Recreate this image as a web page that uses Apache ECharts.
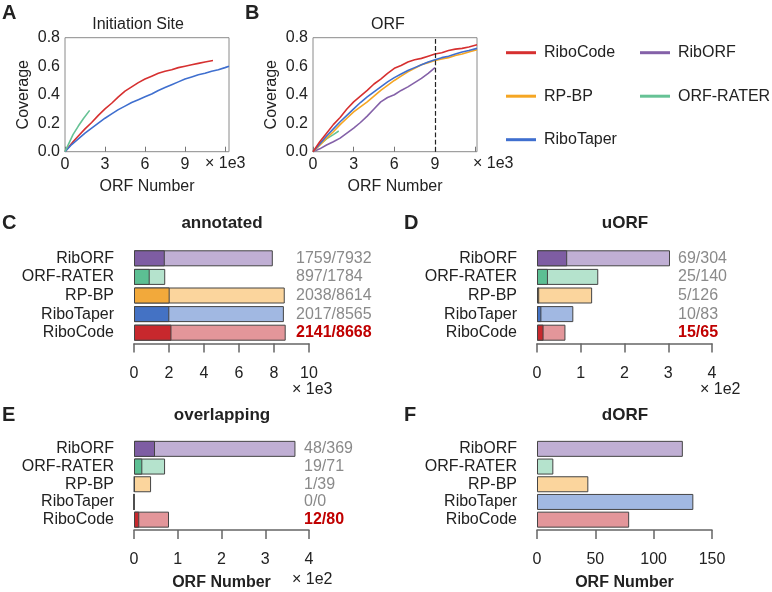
<!DOCTYPE html>
<html><head><meta charset="utf-8">
<script src="https://cdn.jsdelivr.net/npm/echarts@6/dist/echarts.min.js"></script>
<style>html,body{margin:0;padding:0;background:#fff}#c{width:772px;height:592px}</style>
</head><body><div id="c"></div>
<script>
// ---------- data ----------
const tools = ['RibORF', 'ORF-RATER', 'RP-BP', 'RiboTaper', 'RiboCode'];
const legendCol1 = ['RiboCode', 'RP-BP', 'RiboTaper'];
const legendCol2 = ['RibORF', 'ORF-RATER'];

// Panel A: Initiation Site coverage, x in thousands of ORFs
const initRiboCode = [[0,0],[0.3,0.035],[0.6,0.07],[1,0.11],[1.5,0.16],[2,0.205],[2.5,0.255],[3,0.30],[3.5,0.34],[4,0.385],[4.5,0.425],[5,0.455],[5.5,0.485],[6,0.51],[6.5,0.53],[7,0.55],[7.5,0.565],[8,0.575],[8.5,0.59],[9,0.60],[9.5,0.61],[10,0.62],[10.5,0.63],[11.1,0.64]];
const initRiboTaper = [[0,0],[0.5,0.05],[1,0.09],[1.5,0.13],[2,0.165],[2.5,0.2],[3,0.235],[3.5,0.265],[4,0.295],[4.5,0.32],[5,0.345],[5.5,0.365],[6,0.385],[6.5,0.405],[7,0.43],[7.5,0.45],[8,0.47],[8.5,0.49],[9,0.51],[9.5,0.525],[10,0.54],[10.5,0.55],[11,0.565],[11.5,0.575],[12,0.59],[12.3,0.60]];
const initORFRATER = [[0,0],[0.3,0.06],[0.6,0.12],[1,0.18],[1.4,0.235],[1.85,0.29]];

// Panel B: ORF coverage
const orfRiboCode = [[0,0],[0.5,0.07],[1,0.13],[1.5,0.19],[2,0.24],[2.5,0.30],[3,0.35],[3.5,0.39],[4,0.43],[4.5,0.475],[5,0.51],[5.5,0.55],[6,0.585],[6.5,0.605],[7,0.63],[7.5,0.645],[8,0.655],[8.5,0.67],[9,0.685],[9.5,0.695],[10,0.71],[10.5,0.72],[11,0.725],[11.5,0.735],[12.1,0.75]];
const orfRiboTaper = [[0,0],[0.5,0.055],[1,0.11],[1.5,0.16],[2,0.21],[2.5,0.255],[3,0.30],[3.5,0.345],[4,0.385],[4.5,0.42],[5,0.455],[5.5,0.49],[6,0.52],[6.5,0.545],[7,0.57],[7.5,0.59],[8,0.61],[8.5,0.63],[9,0.645],[9.5,0.66],[10,0.67],[10.5,0.685],[11,0.70],[11.5,0.71],[12.1,0.725]];
const orfRPBP = [[0,0],[0.5,0.045],[1,0.095],[1.5,0.14],[2,0.19],[2.5,0.235],[3,0.28],[3.5,0.315],[4,0.35],[4.5,0.39],[5,0.43],[5.5,0.465],[6,0.50],[6.5,0.53],[7,0.56],[7.5,0.585],[8,0.61],[8.5,0.625],[9,0.64],[9.5,0.65],[10,0.66],[10.5,0.675],[11,0.685],[11.5,0.70],[12.1,0.715]];
const orfRibORF = [[0,0],[0.5,0.02],[1,0.047],[1.5,0.07],[2,0.095],[2.5,0.13],[3,0.165],[3.5,0.205],[4,0.25],[4.5,0.30],[5,0.35],[5.5,0.38],[6,0.40],[6.5,0.43],[7,0.455],[7.5,0.485],[8,0.515],[8.5,0.55],[9,0.59]];
const orfORFRATER = [[0,0],[0.5,0.05],[1,0.09],[1.5,0.12],[1.9,0.145]];

// Panels C-F: [found, total] per tool (order of `tools`)
const annotatedFound = [1.759, 0.897, 2.038, 2.017, 2.141];   // x 1e3
const annotatedTotal = [7.932, 1.784, 8.614, 8.565, 8.668];
const annotatedText = ['1759/7932', '897/1784', '2038/8614', '2017/8565', '2141/8668'];
const uorfFound = [0.69, 0.25, 0.05, 0.10, 0.15];                // x 1e2
const uorfTotal = [3.04, 1.40, 1.26, 0.83, 0.65];
const uorfText = ['69/304', '25/140', '5/126', '10/83', '15/65'];
const overlapFound = [0.48, 0.19, 0.01, 0, 0.12];                // x 1e2
const overlapTotal = [3.69, 0.71, 0.39, 0, 0.80];
const overlapText = ['48/369', '19/71', '1/39', '0/0', '12/80'];
const dorfTotal = [125, 14, 44, 134, 79];

const xTicksA = [0, 3, 6, 9];
const xMinorTicksA = [0, 3, 6, 9, 12];

// ---------- styles ----------
const FONT = 'Liberation Sans, Arial, Helvetica, sans-serif';
const lineColor = {'RiboCode':'#d63030','RP-BP':'#f5a623','RiboTaper':'#3f6fcf','RibORF':'#8461a8','ORF-RATER':'#66c295'};
const darkColor = {'RibORF':'#7e5da3','ORF-RATER':'#5cbf93','RP-BP':'#f2a93b','RiboTaper':'#4472c4','RiboCode':'#c8282d'};
const lightColor = {'RibORF':'#c0afd4','ORF-RATER':'#b5e3cd','RP-BP':'#fbd59d','RiboTaper':'#a1b8e2','RiboCode':'#e3969a'};
const txt = '#222';

const grids = [
  {left:65, top:37.7, width:164, height:114},
  {left:313, top:37.7, width:164, height:114},
  {left:134, top:249, width:175, height:93},
  {left:537, top:249, width:175, height:93},
  {left:134, top:440, width:175, height:94},
  {left:537, top:440, width:175, height:94}
].map(g => Object.assign({containLabel:false}, g));
grids[0].show = true; grids[0].borderColor = '#8a8a8a'; grids[0].borderWidth = 1;
grids[1].show = true; grids[1].borderColor = '#8a8a8a'; grids[1].borderWidth = 1;

function lineX(gi, max, name) {
  return {type:'value', gridIndex:gi, min:0, max:max, interval:3,
    axisLine:{show:false}, splitLine:{show:false},
    axisTick:{show:true, inside:true, length:5, lineStyle:{color:'#777'}, customValues:xMinorTicksA},
    axisLabel:{fontFamily:FONT, fontSize:16, color:txt, margin:5, customValues:xTicksA},
    name:name, nameLocation:'middle', nameGap:27,
    nameTextStyle:{fontFamily:FONT, fontSize:16, color:txt}};
}
function lineY(gi) {
  return {type:'value', gridIndex:gi, min:0, max:0.8, interval:0.2,
    axisLine:{show:false}, splitLine:{show:false}, axisTick:{show:false},
    axisLabel:{fontFamily:FONT, fontSize:16, color:txt, margin:5, formatter:v => v.toFixed(1)},
    name:'Coverage', nameLocation:'middle', nameGap:33, nameRotate:90,
    nameTextStyle:{fontFamily:FONT, fontSize:16, color:txt}};
}
function barX(gi, max, interval, name) {
  const o = {type:'value', gridIndex:gi, min:0, max:max, interval:interval, offset:1.5,
    axisLine:{show:true, lineStyle:{color:'#666', width:1.5}}, splitLine:{show:false},
    axisTick:{show:true, length:9, lineStyle:{color:'#666', width:1.5}},
    axisLabel:{fontFamily:FONT, fontSize:16, color:txt, margin:22}};
  if (name) { o.name = name; o.nameLocation = 'middle'; o.nameGap = 45;
    o.nameTextStyle = {fontFamily:FONT, fontSize:16, fontWeight:'bold', color:txt}; }
  return o;
}
function catY(gi) {
  return {type:'category', gridIndex:gi, data:tools, inverse:true,
    axisLine:{show:false}, axisTick:{show:false},
    axisLabel:{fontFamily:FONT, fontSize:16, color:txt, margin:20, interval:0}};
}
function ratioY(gi, texts, off) {
  return {type:'category', gridIndex:gi, position:'right', offset:off, inverse:true,
    data:texts.map((t, i) => tools[i] === 'RiboCode'
      ? {value:t, textStyle:{color:'#c00000', fontWeight:'bold'}} : t),
    axisLine:{show:false}, axisTick:{show:false},
    axisLabel:{fontFamily:FONT, fontSize:16, color:'#8a8a8a', margin:0, interval:0}};
}

const xAxis = [
  lineX(0, 12.3, 'ORF Number'),
  lineX(1, 12.1, 'ORF Number'),
  barX(2, 10, 2),
  barX(3, 4, 1),
  barX(4, 4, 1, 'ORF Number'),
  barX(5, 150, 50, 'ORF Number')
];
const yAxis = [
  lineY(0), lineY(1),
  catY(2), ratioY(2, annotatedText, -13),
  catY(3), ratioY(3, uorfText, -34),
  catY(4), ratioY(4, overlapText, -5),
  catY(5)
];

function lineSeries(name, xi, data, extra) {
  return Object.assign({type:'line', name:name, xAxisIndex:xi, yAxisIndex:xi, data:data,
    symbol:'none', smooth:false, lineStyle:{width:1.6, color:lineColor[name]},
    itemStyle:{color:lineColor[name]}, z:3}, extra || {});
}
function barSeries(xi, yi, vals, palette, name) {
  return {type:'bar', name:name, xAxisIndex:xi, yAxisIndex:yi, barWidth:16, barGap:'-100%',
    data:vals.map((v, i) => ({value:v, itemStyle:{color:palette[tools[i]]}})),
    itemStyle:{borderColor:'#444', borderWidth:1}, silent:true};
}

const series = [
  lineSeries('RiboCode', 0, initRiboCode),
  lineSeries('RiboTaper', 0, initRiboTaper),
  lineSeries('ORF-RATER', 0, initORFRATER),
  lineSeries('RibORF', 1, orfRibORF),
  lineSeries('ORF-RATER', 1, orfORFRATER),
  lineSeries('RP-BP', 1, orfRPBP),
  lineSeries('RiboTaper', 1, orfRiboTaper),
  lineSeries('RiboCode', 1, orfRiboCode, {markLine:{silent:true, symbol:'none', label:{show:false},
    lineStyle:{type:'dashed', color:'#222', width:1.2}, data:[{xAxis:9}]}}),
  barSeries(2, 2, annotatedTotal, lightColor, 'annTotal'),
  barSeries(2, 2, annotatedFound, darkColor, 'annFound'),
  barSeries(3, 4, uorfTotal, lightColor, 'uTotal'),
  barSeries(3, 4, uorfFound, darkColor, 'uFound'),
  barSeries(4, 6, overlapTotal, lightColor, 'oTotal'),
  barSeries(4, 6, overlapFound, darkColor, 'oFound'),
  barSeries(5, 8, dorfTotal, lightColor, 'dTotal')
];

function legend(left, data) {
  return {orient:'vertical', left:left, top:44.7, padding:0, itemGap:27.5, itemWidth:30, itemHeight:14,
    icon:'path://M0,0L30,0L30,3L0,3Z', data:data,
    textStyle:{fontFamily:FONT, fontSize:16, color:txt, padding:[0,0,0,3]}};
}

function label(text, x, y, size, bold, align) {
  return {type:'text', x:x, y:y, silent:true,
    style:{text:text, fill:txt, align:align || 'center', verticalAlign:'middle',
      font:(bold ? 'bold ' : '') + size + 'px ' + FONT}};
}
const graphic = [
  label('A', 2, 13, 20, true, 'left'),
  label('B', 245, 13, 20, true, 'left'),
  label('C', 2, 223, 20, true, 'left'),
  label('D', 404, 223, 20, true, 'left'),
  label('E', 2, 415, 20, true, 'left'),
  label('F', 404, 415, 20, true, 'left'),
  label('Initiation Site', 138, 25, 16, false),
  label('ORF', 388, 25, 16, false),
  label('annotated', 222, 223, 17, true),
  label('uORF', 625, 223, 17, true),
  label('overlapping', 222, 415, 17, true),
  label('dORF', 625, 415, 17, true),
  label('× 1e3', 205, 164, 16, false, 'left'),
  label('× 1e3', 473, 164, 16, false, 'left'),
  label('× 1e3', 292, 390, 16, false, 'left'),
  label('× 1e2', 700, 390, 16, false, 'left'),
  label('× 1e2', 292, 580, 16, false, 'left')
];

const chart = echarts.init(document.getElementById('c'), null, {renderer:'canvas'});
chart.setOption({
  animation:false, backgroundColor:'#fff',
  textStyle:{fontFamily:FONT},
  grid:grids, xAxis:xAxis, yAxis:yAxis, series:series,
  legend:[legend(506, legendCol1), legend(640, legendCol2)],
  graphic:graphic
});
</script></body></html>
